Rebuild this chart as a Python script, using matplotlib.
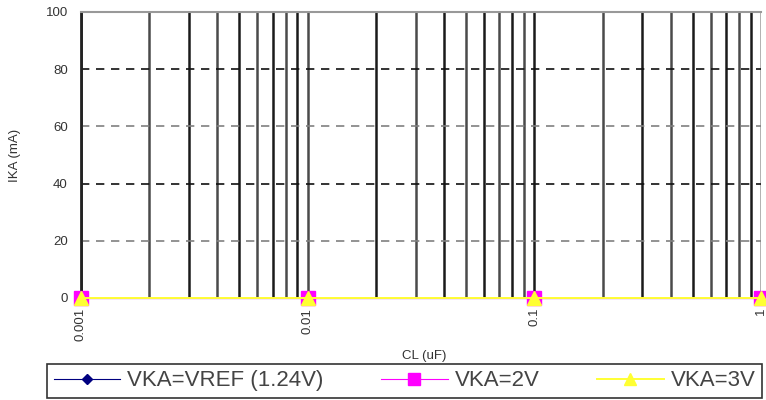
import matplotlib
matplotlib.use("Agg")
import matplotlib.pyplot as plt
import numpy as np

plt.rcParams['font.family'] = ['Liberation Sans', 'DejaVu Sans']

# data
cl_uF = [0.001, 0.01, 0.1, 1]
ika_vref = [0, 0, 0, 0]
ika_2v = [0, 0, 0, 0]
ika_3v = [0, 0, 0, 0]
series_labels = ['VKA=VREF (1.24V)', 'VKA=2V', 'VKA=3V']
x_ticks = [0.001, 0.01, 0.1, 1]
x_tick_labels = ['0.001', '0.01', '0.1', '1']
y_ticks = [0, 20, 40, 60, 80, 100]

W, H = 766, 400
L, R, T, B = 81, 761, 12, 298
fig = plt.figure(figsize=(W/100, H/100), dpi=100)
ax = fig.add_axes([L/W, 1-B/H, (R-L)/W, (B-T)/H])

ax.set_xscale('log')
ax.set_xlim(0.001, 1)
ax.set_ylim(0, 100)

# vertical grid lines (major and minor)
k = 0
for dec in [0.001, 0.01, 0.1]:
    for m in range(1, 10):
        xv = dec * m
        col = '#1a1a1a' if k % 2 == 0 else '#4a4a4a'
        ax.axvline(xv, color=col, lw=1.8, zorder=1)
        k += 1
ax.axvline(1, color='#9a9a9a', lw=1.8, zorder=1)

# horizontal dashed grid
for yv in [20, 40, 60, 80]:
    col = '#111111' if yv in (40, 80) else '#808080'
    ax.axhline(yv, color=col, lw=1.2, ls=(0, (5, 4)), zorder=1)

l1, = ax.plot(cl_uF, ika_vref, color='#000080', marker='D', ms=6, lw=0.8,
              label=series_labels[0], zorder=3, clip_on=False)
l2, = ax.plot(cl_uF, ika_2v, color='#ff00ff', marker='s', ms=10, lw=0.8,
              label=series_labels[1], zorder=4, clip_on=False)
l3, = ax.plot(cl_uF, ika_3v, color='#ffff33', marker='^', ms=10, lw=1.4,
              label=series_labels[2], zorder=5, clip_on=False)

for s in ['right', 'bottom']:
    ax.spines[s].set_visible(False)
ax.spines['top'].set_color('#999999')
ax.spines['top'].set_linewidth(1.5)
ax.spines['left'].set_color('#222222')
ax.spines['left'].set_linewidth(2)

ax.set_xticks(x_ticks)
ax.set_xticklabels(x_tick_labels, rotation=90, fontsize=9.5, color='#333333')
ax.xaxis.set_minor_locator(matplotlib.ticker.NullLocator())
ax.set_yticks(y_ticks)
ax.set_yticklabels([str(v) for v in y_ticks], fontsize=9.5, color='#333333')
ax.tick_params(axis='y', length=0, pad=9.5)
ax.tick_params(axis='x', length=0, pad=7)

ax.set_ylabel('IKA (mA)', fontsize=9.5, color='#333333')
ax.yaxis.set_label_coords((21 - L)/(R - L), 0.5)
fig.text(424/W, 1-356/H, 'CL (uF)', fontsize=9.5, color='#333333', ha='center', va='center')

leg = fig.legend(handles=[l1, l2, l3], labels=series_labels, loc='lower left',
                 bbox_to_anchor=(47/W, 2/H), ncol=3, fontsize=16,
                 handlelength=3.0, columnspacing=2.6, handletextpad=0.3,
                 borderaxespad=0, fancybox=False, shadow=False, frameon=True,
                 borderpad=0.3, markerscale=0.9)
leg.get_frame().set_edgecolor('black')
leg.get_frame().set_linewidth(1.2)
for t in leg.get_texts():
    t.set_color('#444444')

fig.savefig('out.png', dpi=100)
